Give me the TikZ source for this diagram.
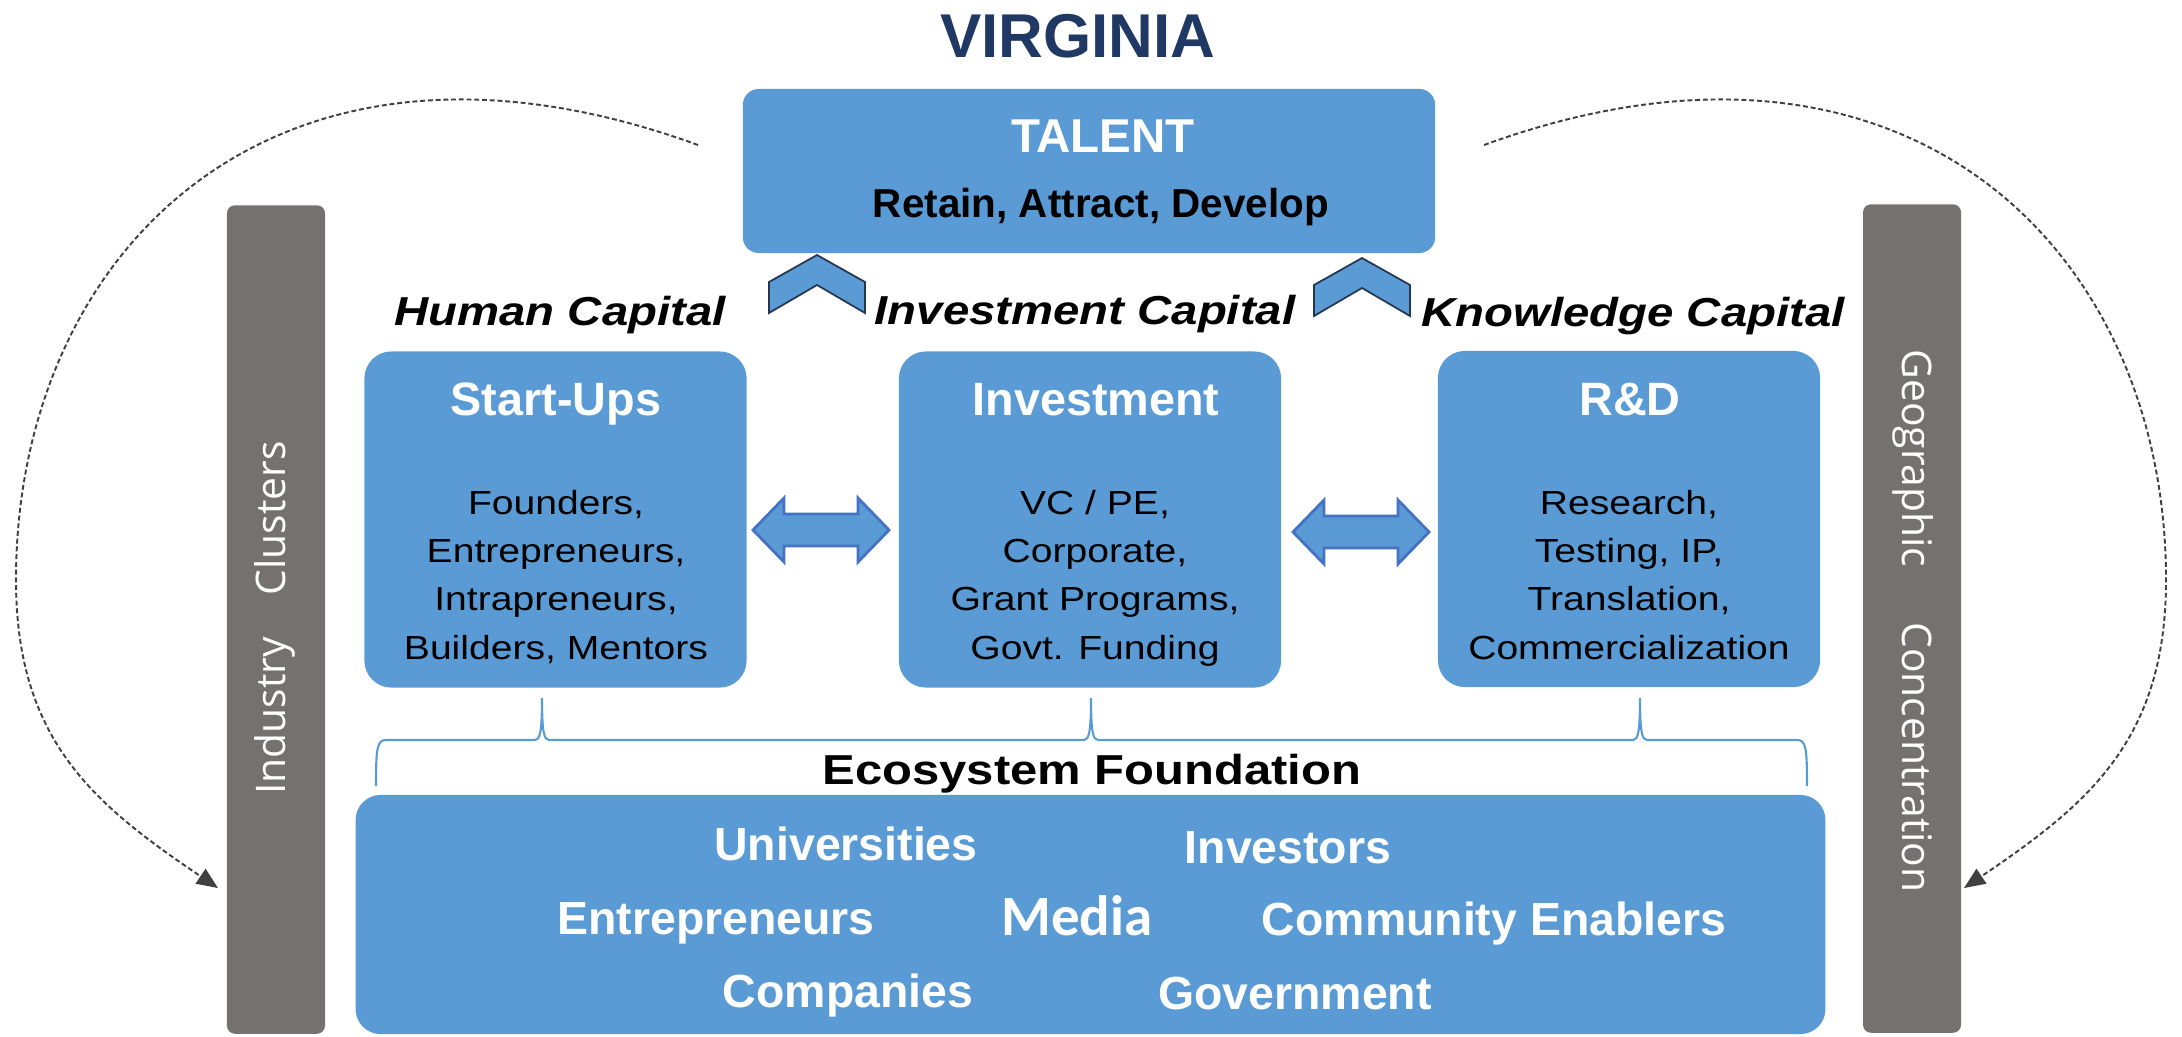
\documentclass[tikz,border=0pt]{standalone}
\usepackage{fontspec}
\setmainfont{Liberation Sans}
\newfontfamily\widesans[FakeStretch=1.17]{Liberation Sans}
\newfontfamily\barsans{Open Sans}
\newfontfamily\calsans{Carlito}
\usetikzlibrary{arrows.meta}

\definecolor{boxblue}{RGB}{91,155,213}
\definecolor{bargray}{RGB}{118,113,113}
\definecolor{navy}{RGB}{31,56,100}
\definecolor{chevline}{RGB}{38,54,80}
\definecolor{arrowline}{RGB}{68,114,196}

% up-pointing chevron, apex at (#1,#2)
\newcommand\chevron[2]{%
  \draw[chev] (#1,#2) -- ++(48,-27) -- ++(0,-31) -- ++(-48,28) -- ++(-48,-28) -- ++(0,31) -- cycle;}
% two-headed block arrow centred at (#1,#2)
\newcommand\twoway[2]{%
  \draw[dblarrow] (#1,#2) ++(-68,0) -- ++(31,32) -- ++(0,-16) -- ++(74,0) -- ++(0,16) -- ++(31,-32)
    -- ++(-31,-32) -- ++(0,16) -- ++(-74,0) -- ++(0,-16) -- cycle;}

\begin{document}
\begin{tikzpicture}[
    x=0.01cm, y=0.01cm,
    capbox/.style={rectangle, rounded corners=0.27cm, fill=boxblue, minimum width=3.82cm, minimum height=3.36cm, inner sep=0pt},
    boxtitle/.style={anchor=base, text=white, font=\bfseries\fontsize{13.3}{16}\selectfont},
    boxlines/.style={anchor=north, align=center, inner sep=0pt, font=\widesans\fontsize{9.5}{13.66}\selectfont},
    capital/.style={anchor=base, font=\widesans\bfseries\itshape\fontsize{11.5}{14}\selectfont},
    sidebar/.style={rectangle, rounded corners=0.08cm, fill=bargray, minimum width=0.98cm, minimum height=8.28cm, inner sep=0pt},
    sidetext/.style={text=white, inner sep=0pt, font=\barsans\fontsize{11.6}{14}\selectfont},
    actor/.style={anchor=base, text=white, font=\bfseries\fontsize{13.2}{16}\selectfont},
    chev/.style={fill=boxblue, draw=chevline, line width=0.5pt, line join=miter},
    dblarrow/.style={fill=boxblue, draw=arrowline, line width=0.8pt},
    brace/.style={draw=boxblue, line width=0.6pt},
    feedback/.style={draw=black!75, line width=0.55pt, dash pattern=on 1.4pt off 0.8pt, -{Triangle[length=6pt, width=5pt]}}
]
\useasboundingbox (0,0) rectangle (2182,-1036);

% Titre et talent
\node[anchor=base, text=navy, font=\bfseries\fontsize{17.6}{20}\selectfont] (state) at (1078,-57) {VIRGINIA};
\node[rectangle, rounded corners=0.16cm, fill=boxblue, minimum width=6.92cm, minimum height=1.64cm] (talent) at (1089,-171) {};
\node[anchor=base, text=white, font=\bfseries\fontsize{13.5}{16}\selectfont] (talentname) at (1103,-152) {TALENT};
\node[anchor=base, font=\bfseries\fontsize{11.5}{14}\selectfont] (talentsub) at (1101,-217) {Retain, Attract, Develop};

\chevron{817}{-255}
\chevron{1362}{-258}

% Capitals
\node[capital] (human) at (560,-325) {Human Capital};
\node[capital] (investcap) at (1085,-324) {Investment Capital};
\node[capital] (knowcap) at (1633,-326) {Knowledge Capital};

\node[capbox] (startups) at (555.5,-519.5) {};
\node[capbox] (invest) at (1090,-519.5) {};
\node[capbox] (rnd) at (1629,-519) {};

\node[boxtitle] (startupsname) at (556,-415) {Start-Ups};
\node[boxtitle] (investname) at (1096,-415) {Investment};
\node[boxtitle] (rndname) at (1630,-415) {R\&D};

\node[boxlines] (startupslist) at (556,-490) {Founders,\\Entrepreneurs,\\Intrapreneurs,\\Builders, Mentors};
\node[boxlines] (investlist) at (1095,-490) {VC / PE,\\Corporate,\\Grant Programs,\\Govt. Funding};
\node[boxlines] (rndlist) at (1629,-490) {Research,\\Testing, IP,\\Translation,\\Commercialization};

\twoway{821}{-530}
\twoway{1361}{-532}

% Accolade vers la fondation
\draw[brace] (376,-786) .. controls (376,-748) and (377,-740) .. (386,-740)
  \foreach \p in {542,1091,1640} { -- (\p-7,-740) .. controls (\p-2,-740) and (\p,-732) .. (\p,-698)
    .. controls (\p,-732) and (\p+2,-740) .. (\p+7,-740) }
  -- (1797,-740) .. controls (1806,-740) and (1807,-748) .. (1807,-786);

% Fondation
\node[anchor=base, font=\widesans\bfseries\fontsize{11.9}{14}\selectfont] (ecotitle) at (1092,-784) {Ecosystem Foundation};
\node[rectangle, rounded corners=0.25cm, fill=boxblue, minimum width=14.69cm, minimum height=2.39cm] (found) at (1090.5,-914.5) {};
\node[actor] (univ) at (846,-860) {Universities};
\node[actor] (investors) at (1288,-863) {Investors};
\node[actor] (entre) at (716,-934) {Entrepreneurs};
\node[anchor=base, text=white, font=\calsans\bfseries\fontsize{16.2}{19}\selectfont] (media) at (1077,-935) {Media};
\node[actor] (community) at (1494,-935) {Community Enablers};
\node[actor] (companies) at (848,-1007) {Companies};
\node[actor] (govt) at (1295,-1009) {Government};

% Barres laterales
\node[sidebar] (indbar) at (276,-619.5) {};
\node[sidetext, rotate=90] (indtext) at (275,-618) {Industry\hspace{0.42cm}Clusters};
\node[sidebar] (geobar) at (1912,-618.5) {};
\node[sidetext, rotate=-90] (geotext) at (1913,-621) {Geographic\hspace{0.55cm}Concentration};

% Boucles en pointilles
\coordinate (loopLs) at (698,-145);
\coordinate (loopLm) at (16,-580);
\coordinate (loopLe) at (218,-888);
\draw[feedback] (loopLs) .. controls +(160:450) and +(0,330) .. (loopLm)
  .. controls +(0,-160) and +(146:150) .. (loopLe);

\coordinate (loopRs) at (1484,-145);
\coordinate (loopRm) at (2166,-580);
\coordinate (loopRe) at (1964,-888);
\draw[feedback] (loopRs) .. controls +(20:450) and +(0,330) .. (loopRm)
  .. controls +(0,-160) and +(34:150) .. (loopRe);

\end{tikzpicture}
\end{document}
